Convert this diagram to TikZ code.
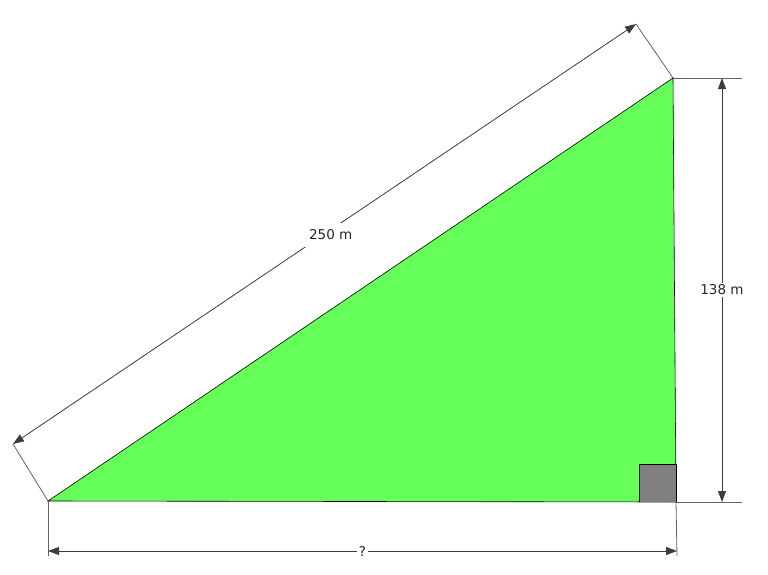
\documentclass[tikz,border=0pt]{standalone}
\usepackage{fontspec}
\setmainfont{DejaVu Sans}
\usetikzlibrary{arrows.meta}

\definecolor{fieldgreen}{RGB}{102,255,90}
\definecolor{squaregrey}{RGB}{128,128,128}
\definecolor{dimgrey}{RGB}{60,60,60}

\begin{document}
\begin{tikzpicture}[x=1pt, y=-1pt]
        \tikzstyle{every node}=[font=\fontsize{13.5}{16}\selectfont]
        \tikzstyle{extline}=[draw=dimgrey!80, line width=0.8pt]
        \tikzstyle{dimline}=[draw=dimgrey, line width=0.8pt, {Triangle[length=11pt, width=8pt]}-{Triangle[length=11pt, width=8pt]}]
        \tikzstyle{dimlabel}=[fill=white, inner sep=2pt, text=black!85]

        \useasboundingbox (0,0) rectangle (768,574);

        % triangle corners
        \coordinate (A) at (48,501);
        \coordinate (B) at (673,78);
        \coordinate (C) at (676,502);

        \filldraw[fill=fieldgreen, draw=black, line width=0.6pt] (A) -- (B) -- (C) -- cycle;
        \filldraw[fill=squaregrey, draw=black, line width=0.6pt] (639,502) -- (639,464) -- (676,464) -- (C);

        % ends of the dimension lines
        \coordinate (hypA) at (13,444);
        \coordinate (hypB) at (636,24);
        \coordinate (rightB) at (722,78);
        \coordinate (rightC) at (722,502);
        \coordinate (baseA) at (48,551);
        \coordinate (baseC) at (677,551);

        \draw[extline] (A) -- (hypA);
        \draw[extline] (B) -- (hypB);
        \draw[extline] (B) -- (742,78);
        \draw[extline] (C) -- (742,502);
        \draw[extline] (A) -- (48,556);
        \draw[extline] (C) -- (677,556);

        \draw[dimline] (hypA) -- (hypB) node[dimlabel, pos=0.51, yshift=-5pt, inner xsep=6pt, inner ysep=7pt] (hyp) {250 m};
        \draw[dimline] (rightB) -- (rightC) node[dimlabel, midway] (height) {138 m};
        \draw[dimline] (baseA) -- (baseC) node[dimlabel, midway] (base) {?};
\end{tikzpicture}
\end{document}
